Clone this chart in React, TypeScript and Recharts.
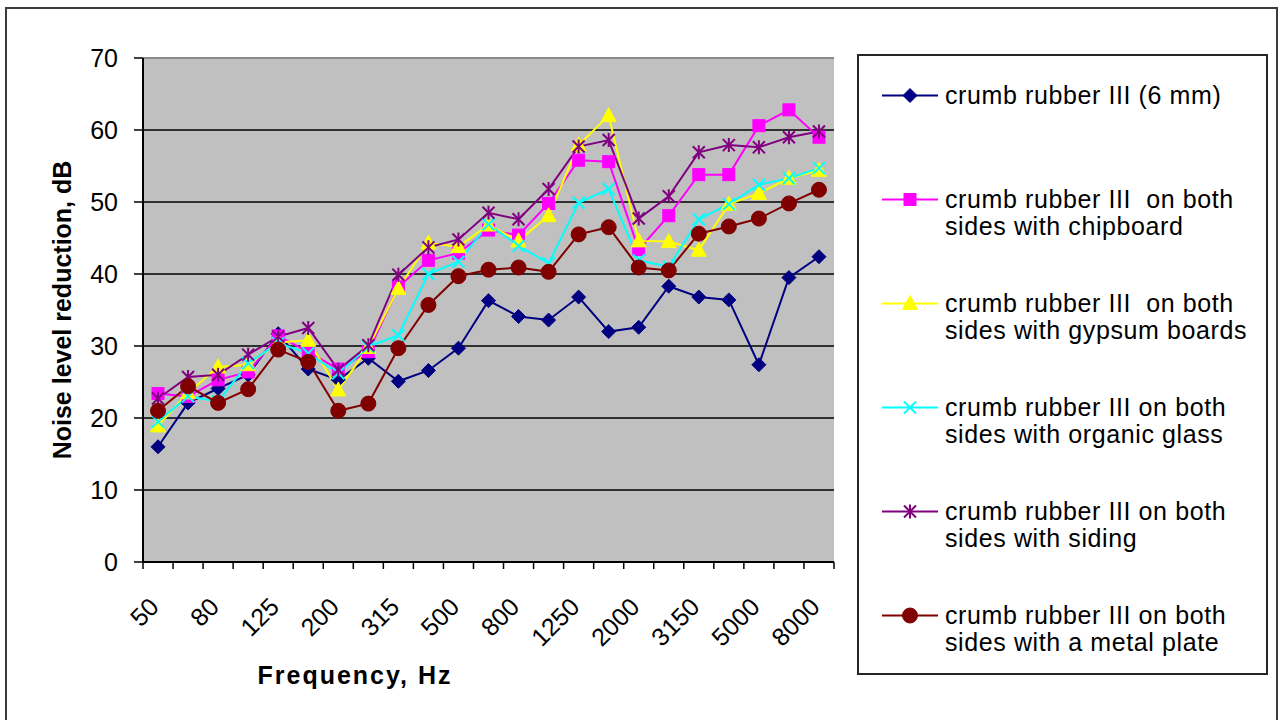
import React from 'react';
import { LineChart, Line, XAxis, YAxis, CartesianGrid, ReferenceLine, Legend } from 'recharts';

const FONT = '"Liberation Sans", Arial, Helvetica, sans-serif';

// categories (1/3-octave centre frequencies, Hz)
const frequencies = ['50', '63', '80', '100', '125', '160', '200', '250', '315', '400', '500', '630', '800', '1000', '1250', '1600', '2000', '2500', '3150', '4000', '5000', '6300', '8000'];
// only every second frequency carries a label on the axis
const yTicks = [0, 10, 20, 30, 40, 50, 60, 70];

const crumb6mm = [16.0, 22.1, 24.1, 26.0, 31.7, 26.8, 25.3, 28.3, 25.1, 26.6, 29.7, 36.3, 34.1, 33.6, 36.8, 32.0, 32.6, 38.3, 36.8, 36.4, 27.4, 39.5, 42.4];
const chipboard = [23.4, 23.0, 25.3, 26.4, 31.4, 29.2, 26.8, 29.2, 38.2, 41.9, 42.9, 46.1, 45.4, 49.8, 55.8, 55.6, 43.4, 48.1, 53.8, 53.8, 60.6, 62.8, 59.0];
const gypsum = [18.9, 23.5, 27.1, 27.4, 30.5, 30.8, 23.9, 29.8, 38.0, 44.3, 43.8, 46.8, 44.6, 48.1, 57.9, 62.0, 44.6, 44.5, 43.3, 49.7, 51.2, 53.3, 54.4];
const organicGlass = [19.5, 23.0, 22.3, 27.6, 30.4, 29.0, 26.2, 29.9, 31.5, 40.0, 41.7, 46.9, 43.9, 41.5, 49.9, 51.8, 41.9, 41.0, 47.6, 49.7, 52.4, 53.3, 54.7];
const siding = [22.7, 25.7, 26.0, 28.8, 31.3, 32.5, 26.7, 30.1, 39.9, 43.7, 44.8, 48.5, 47.6, 51.8, 57.7, 58.6, 47.7, 50.8, 56.9, 57.9, 57.6, 59.0, 59.8];
const metalPlate = [21.0, 24.4, 22.1, 24.0, 29.5, 27.8, 21.0, 22.0, 29.7, 35.7, 39.7, 40.6, 40.9, 40.3, 45.5, 46.5, 40.9, 40.5, 45.6, 46.6, 47.7, 49.8, 51.7];

type Shape = 'diamond' | 'square' | 'triangle' | 'x' | 'star' | 'circle';

const series: { key: string; name: string; color: string; shape: Shape; values: number[] }[] = [
  { key: 's1', name: 'crumb rubber III (6 mm)', color: '#000080', shape: 'diamond', values: crumb6mm },
  { key: 's2', name: 'crumb rubber III  on both sides with chipboard', color: '#FF00FF', shape: 'square', values: chipboard },
  { key: 's3', name: 'crumb rubber III  on both sides with gypsum boards', color: '#FFFF00', shape: 'triangle', values: gypsum },
  { key: 's4', name: 'crumb rubber III on both sides with organic glass', color: '#00FFFF', shape: 'x', values: organicGlass },
  { key: 's5', name: 'crumb rubber III on both sides with siding', color: '#800080', shape: 'star', values: siding },
  { key: 's6', name: 'crumb rubber III on both sides with a metal plate', color: '#800000', shape: 'circle', values: metalPlate },
];

const data = frequencies.map((f, i) => {
  const row: Record<string, string | number> = { freq: f };
  series.forEach((s) => {
    row[s.key] = s.values[i];
  });
  return row;
});

function Marker({ cx, cy, shape, color }: { cx: number; cy: number; shape: Shape; color: string }) {
  if (cx == null || cy == null || isNaN(cx) || isNaN(cy)) return null;
  switch (shape) {
    case 'diamond': {
      const r = 7;
      return <polygon points={`${cx},${cy - r} ${cx + r},${cy} ${cx},${cy + r} ${cx - r},${cy}`} fill={color} stroke={color} strokeWidth={1} />;
    }
    case 'square': {
      const r = 6;
      return <rect x={cx - r} y={cy - r} width={2 * r} height={2 * r} fill={color} stroke={color} strokeWidth={1} />;
    }
    case 'triangle': {
      return <polygon points={`${cx},${cy - 8} ${cx + 7.5},${cy + 6} ${cx - 7.5},${cy + 6}`} fill={color} stroke={color} strokeWidth={1} />;
    }
    case 'x': {
      const r = 6;
      return (
        <g stroke={color} strokeWidth={2}>
          <line x1={cx - r} y1={cy - r} x2={cx + r} y2={cy + r} />
          <line x1={cx - r} y1={cy + r} x2={cx + r} y2={cy - r} />
        </g>
      );
    }
    case 'star': {
      const r = 6;
      return (
        <g stroke={color} strokeWidth={2}>
          <line x1={cx - r} y1={cy - r} x2={cx + r} y2={cy + r} />
          <line x1={cx - r} y1={cy + r} x2={cx + r} y2={cy - r} />
          <line x1={cx} y1={cy - r - 1} x2={cx} y2={cy + r + 1} />
        </g>
      );
    }
    case 'circle':
    default:
      return <circle cx={cx} cy={cy} r={7.5} fill={color} stroke={color} strokeWidth={1} />;
  }
}

const XTick = (props: any) => {
  const { x, y, payload, index } = props;
  const off = payload && typeof payload.offset === 'number' && payload.offset > 0 ? payload.offset : 15;
  const isLast = index === frequencies.length - 1;
  const showLabel = index % 2 === 0;
  const ax = x - 4;
  const ay = y + 40;
  return (
    <g>
      <line x1={x - off} x2={x - off} y1={y} y2={y + 7} stroke="#000" strokeWidth={1.5} />
      {isLast && <line x1={x + off} x2={x + off} y1={y} y2={y + 7} stroke="#000" strokeWidth={1.5} />}
      {showLabel && (
        <text
          x={ax}
          y={ay}
          transform={`rotate(-45, ${ax}, ${ay})`}
          textAnchor="end"
          dominantBaseline="central"
          fill="#000"
          fontSize={25}
          fontFamily={FONT}
        >
          {payload.value}
        </text>
      )}
    </g>
  );
};

const LegendBox = () => (
  <div
    style={{
      position: 'relative',
      width: 411,
      height: 621,
      boxSizing: 'border-box',
      border: '2px solid #262626',
      background: '#fff',
      fontFamily: FONT,
      fontSize: 25,
      color: '#000',
    }}
  >
    {series.map((s, i) => {
      const top = 39 + 104 * i - 13.5;
      const lines = s.name.replace(' sides', '\nsides');
      return (
        <div key={s.key} style={{ position: 'absolute', left: 0, top, width: 405 }}>
          <svg width={60} height={27} style={{ position: 'absolute', left: 23, top: 0 }}>
            <line x1={0} x2={56} y1={13.5} y2={13.5} stroke={s.color} strokeWidth={2} />
            <Marker cx={28} cy={13.5} shape={s.shape} color={s.color} />
          </svg>
          <div style={{ position: 'absolute', left: 86, top: 0, lineHeight: '27px', whiteSpace: 'pre', letterSpacing: 0.6 }}>{lines}</div>
        </div>
      );
    })}
  </div>
);

export default function App() {
  return (
    <div style={{ position: 'absolute', left: 0, top: 0, width: 1281, height: 720, overflow: 'hidden', background: '#fff' }}>
      <div
        style={{
          position: 'absolute',
          left: 5,
          top: 7,
          width: 1273,
          height: 780,
          boxSizing: 'border-box',
          border: '2px solid #3c3c3c',
        }}
      />
      <LineChart
        width={1281}
        height={720}
        data={data}
        margin={{ top: 58, right: 447, bottom: 58, left: 33 }}
      >
        <CartesianGrid vertical={false} stroke="#000" strokeWidth={1.5} fill="#C0C0C0" fillOpacity={1} />
        <XAxis
          dataKey="freq"
          type="category"
          scale="band"
          interval={0}
          height={100}
          tickSize={0}
          tickMargin={0}
          tickLine={false}
          axisLine={{ stroke: '#000', strokeWidth: 2 }}
          tick={<XTick />}
          label={{
            content: (p: any) => {
              const vb = p.viewBox || { x: 143, y: 562 };
              return (
                <text x={vb.x + 212} y={vb.y + 122} textAnchor="middle" fontSize={25} fontWeight="bold" fontFamily={FONT} fill="#000" letterSpacing={2}>
                  Frequency, Hz
                </text>
              );
            },
          }}
        />
        <YAxis
          domain={[0, 70]}
          ticks={yTicks}
          width={110}
          tickSize={9}
          tickMargin={16}
          interval={0}
          allowDataOverflow
          axisLine={{ stroke: '#000', strokeWidth: 2 }}
          tickLine={{ stroke: '#000', strokeWidth: 1.5 }}
          tick={{ fill: '#000', fontSize: 25, fontFamily: FONT }}
          label={{
            content: (p: any) => {
              const vb = p.viewBox || { x: 33, y: 58, height: 504 };
              const cx = vb.x + 29;
              const cy = vb.y + vb.height / 2;
              return (
                <text x={cx} y={cy} transform={`rotate(-90, ${cx}, ${cy})`} textAnchor="middle" dominantBaseline="central" fontSize={25} fontWeight="bold" fontFamily={FONT} fill="#000">
                  Noise level reduction, dB
                </text>
              );
            },
          }}
        />
        <YAxis
          yAxisId="frame"
          orientation="right"
          domain={[0, 70]}
          width={0}
          tick={false}
          tickLine={false}
          axisLine={{ stroke: '#8a8a8a', strokeWidth: 2 }}
        />
        <ReferenceLine y={70} stroke="#8a8a8a" strokeWidth={2} ifOverflow="extendDomain" />
        <Legend
          layout="vertical"
          align="center"
          verticalAlign="middle"
          wrapperStyle={{ left: 857, top: 54, width: 411, height: 621 }}
          content={() => <LegendBox />}
        />
        {series.map((s) => (
          <Line
            key={s.key}
            type="linear"
            dataKey={s.key}
            name={s.name}
            stroke={s.color}
            strokeWidth={2}
            isAnimationActive={false}
            activeDot={false}
            dot={(p: any) => <Marker key={`${s.key}-${p.index}`} cx={p.cx} cy={p.cy} shape={s.shape} color={s.color} />}
          />
        ))}
      </LineChart>
    </div>
  );
}
